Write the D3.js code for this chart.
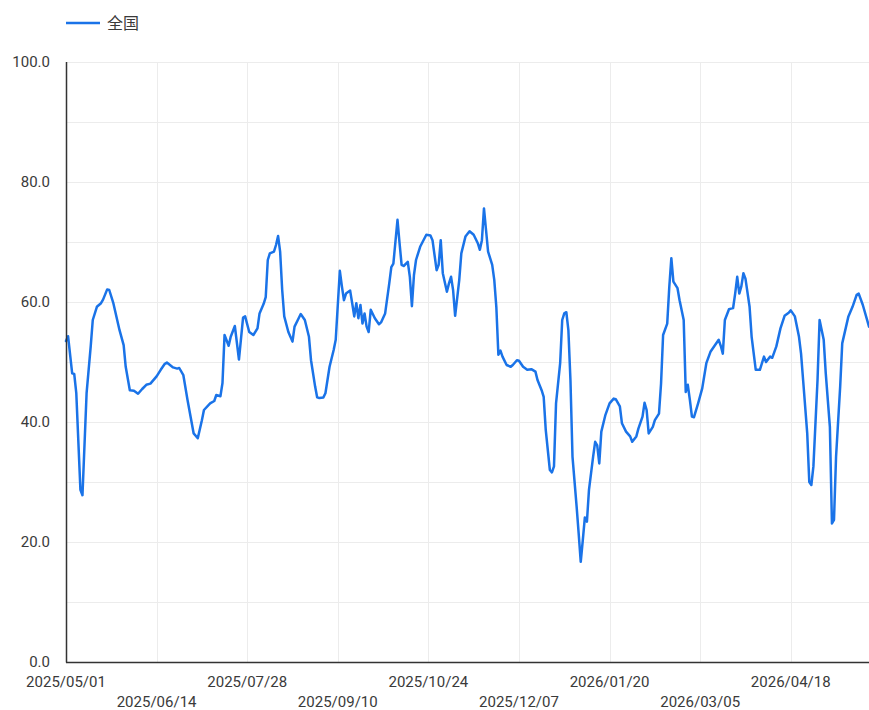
<!DOCTYPE html>
<html>
<head>
<meta charset="utf-8">
<script src="https://cdn.jsdelivr.net/npm/d3@7/dist/d3.min.js"></script>
<style>
  html, body { margin: 0; padding: 0; background: #fff; }
  svg { display: block; font-family: Roboto, "Noto Sans", sans-serif; }
  .grid line { stroke: #ececec; stroke-width: 1; }
  .axis-label { fill: #3a3a3a; font-size: 15px; }
</style>
</head>
<body>
<svg id="chart"></svg>
<script>
// series name
var seriesName = "全国";

// dates (daily samples)
var dates = [
  "2025-05-01","2025-05-02","2025-05-04","2025-05-05","2025-05-06","2025-05-08","2025-05-09","2025-05-11","2025-05-13","2025-05-14",
  "2025-05-16","2025-05-18","2025-05-19","2025-05-21","2025-05-22","2025-05-24","2025-05-27","2025-05-29","2025-05-30","2025-06-01",
  "2025-06-03","2025-06-05","2025-06-07","2025-06-09","2025-06-11","2025-06-14","2025-06-16","2025-06-18","2025-06-19","2025-06-22",
  "2025-06-24","2025-06-25","2025-06-27","2025-06-29","2025-07-02","2025-07-04","2025-07-06","2025-07-07","2025-07-10","2025-07-12",
  "2025-07-13","2025-07-15","2025-07-16","2025-07-17","2025-07-19","2025-07-20","2025-07-22","2025-07-24","2025-07-26","2025-07-27",
  "2025-07-29","2025-07-31","2025-08-02","2025-08-03","2025-08-05","2025-08-06","2025-08-07","2025-08-08","2025-08-10","2025-08-11",
  "2025-08-12","2025-08-13","2025-08-14","2025-08-15","2025-08-17","2025-08-18","2025-08-19","2025-08-20","2025-08-22","2025-08-23",
  "2025-08-25","2025-08-27","2025-08-28","2025-08-30","2025-08-31","2025-09-01","2025-09-03","2025-09-04","2025-09-06","2025-09-08",
  "2025-09-09","2025-09-11","2025-09-12","2025-09-13","2025-09-14","2025-09-16","2025-09-17","2025-09-18","2025-09-19","2025-09-20",
  "2025-09-21","2025-09-22","2025-09-23","2025-09-24","2025-09-25","2025-09-26","2025-09-28","2025-09-30","2025-10-01","2025-10-03",
  "2025-10-05","2025-10-06","2025-10-07","2025-10-09","2025-10-10","2025-10-11","2025-10-12","2025-10-14","2025-10-15","2025-10-16",
  "2025-10-17","2025-10-18","2025-10-20","2025-10-23","2025-10-25","2025-10-26","2025-10-28","2025-10-29","2025-10-30","2025-10-31",
  "2025-11-02","2025-11-03","2025-11-04","2025-11-05","2025-11-06","2025-11-08","2025-11-09","2025-11-11","2025-11-13","2025-11-15",
  "2025-11-17","2025-11-18","2025-11-19","2025-11-20","2025-11-21","2025-11-22","2025-11-24","2025-11-25","2025-11-26","2025-11-27",
  "2025-11-28","2025-11-29","2025-12-01","2025-12-03","2025-12-04","2025-12-06","2025-12-07","2025-12-09","2025-12-11","2025-12-13",
  "2025-12-15","2025-12-16","2025-12-18","2025-12-19","2025-12-20","2025-12-22","2025-12-23","2025-12-24","2025-12-25","2025-12-27",
  "2025-12-28","2025-12-29","2025-12-30","2025-12-31","2026-01-01","2026-01-02","2026-01-04","2026-01-05","2026-01-06","2026-01-07",
  "2026-01-08","2026-01-09","2026-01-10","2026-01-12","2026-01-13","2026-01-14","2026-01-15","2026-01-16","2026-01-18","2026-01-20",
  "2026-01-22","2026-01-23","2026-01-25","2026-01-26","2026-01-28","2026-01-30","2026-01-31","2026-02-02","2026-02-03","2026-02-05",
  "2026-02-06","2026-02-07","2026-02-08","2026-02-10","2026-02-11","2026-02-13","2026-02-14","2026-02-15","2026-02-17","2026-02-18",
  "2026-02-19","2026-02-20","2026-02-22","2026-02-23","2026-02-25","2026-02-26","2026-02-27","2026-02-28","2026-03-01","2026-03-02",
  "2026-03-04","2026-03-06","2026-03-08","2026-03-10","2026-03-12","2026-03-14","2026-03-15","2026-03-16","2026-03-17","2026-03-19",
  "2026-03-20","2026-03-21","2026-03-22","2026-03-23","2026-03-24","2026-03-25","2026-03-26","2026-03-27","2026-03-29","2026-03-30",
  "2026-04-01","2026-04-03","2026-04-05","2026-04-06","2026-04-08","2026-04-09","2026-04-11","2026-04-13","2026-04-15","2026-04-17",
  "2026-04-18","2026-04-20","2026-04-22","2026-04-23","2026-04-24","2026-04-26","2026-04-27","2026-04-28","2026-04-29","2026-05-01",
  "2026-05-02","2026-05-04","2026-05-05","2026-05-07","2026-05-08","2026-05-09","2026-05-10","2026-05-12","2026-05-13","2026-05-16",
  "2026-05-18","2026-05-20","2026-05-21","2026-05-23","2026-05-26"
];

// 全国 values
var values = [
  53.5,54.3,48.1,48.0,44.8,28.7,27.8,44.8,52.6,57.0,
  59.2,59.8,60.4,62.1,62.0,59.8,55.3,52.8,49.2,45.3,
  45.2,44.7,45.5,46.2,46.4,47.6,48.7,49.7,49.9,49.1,
  48.9,49.0,47.8,43.7,38.1,37.3,40.3,42.0,43.1,43.5,
  44.5,44.3,46.5,54.5,52.7,54.2,56.0,50.4,57.4,57.6,
  55.0,54.5,55.6,58.1,59.7,60.8,67.0,68.1,68.4,69.5,
  71.0,68.4,62.0,57.6,55.0,54.2,53.4,55.9,57.3,58.0,
  57.0,54.2,50.3,45.9,44.1,44.0,44.1,44.8,49.2,52.0,
  53.7,65.2,62.6,60.3,61.4,61.9,59.8,57.6,59.8,57.3,
  59.5,56.4,58.1,55.9,55.0,58.7,57.3,56.3,56.6,58.1,
  63.1,65.8,66.4,73.7,69.8,66.2,66.0,66.7,64.2,59.3,
  64.5,67.0,69.2,71.2,71.1,70.3,65.3,66.2,70.3,64.8,
  61.7,63.1,64.2,62.0,57.7,63.7,68.1,70.9,71.8,71.2,
  69.8,68.7,70.3,75.6,72.0,68.4,66.2,63.7,59.2,51.2,
  51.9,50.9,49.5,49.2,49.5,50.3,50.2,49.2,48.7,48.8,
  48.4,47.0,45.3,44.2,38.7,32.0,31.6,32.6,43.1,49.8,
  57.0,58.1,58.3,55.3,47.0,34.2,25.9,21.4,16.7,20.3,
  24.1,23.4,28.7,34.2,36.7,36.1,33.1,38.4,41.2,43.1,
  43.9,43.8,42.6,39.8,38.4,37.6,36.7,37.6,38.9,40.9,
  43.2,42.0,38.1,39.2,40.3,41.4,46.4,54.5,56.4,62.5,
  67.3,63.4,62.3,60.3,57.0,45.0,46.2,43.7,40.9,40.8,
  43.1,45.6,49.8,51.7,52.7,53.7,52.7,51.4,57.0,58.8,
  58.9,59.0,61.4,64.2,61.4,62.6,64.8,63.9,59.2,54.2,
  48.7,48.7,50.9,50.0,50.9,50.7,52.6,55.6,57.7,58.2,
  58.6,57.6,54.2,51.4,47.0,38.1,30.0,29.5,32.6,47.0,
  57.0,53.7,48.1,39.2,23.1,23.7,34.2,45.9,53.1,57.6,
  59.2,61.2,61.4,59.5,55.9
];

// axis ticks
var xTickDates = ["2025-05-01","2025-06-14","2025-07-28","2025-09-10","2025-10-24","2025-12-07","2026-01-20","2026-03-05","2026-04-18"];
var yGridValues = [0,10,20,30,40,50,60,70,80,90,100];
var yTickLabels = [0,20,40,60,80,100];
var xDomain = ["2025-05-01","2026-05-26"];

var W = 869, H = 710;
var margin = {top: 62, right: 0, bottom: 48, left: 66},
    width = W - margin.left - margin.right,
    height = H - margin.top - margin.bottom;

var parse = d3.timeParse("%Y-%m-%d"),
    fmt = d3.timeFormat("%Y/%m/%d");

var data = dates.map(function (d, i) {
  return {date: parse(d), value: values[i]};
});

var svg = d3.select("#chart").attr("width", W).attr("height", H);
var g = svg.append("g").attr("transform", "translate(" + margin.left + "," + margin.top + ")");

var x = d3.scaleTime().domain(xDomain.map(parse)).range([0, width]);
var y = d3.scaleLinear().domain([0, 100]).range([height, 0]);

// grid
var grid = g.append("g").attr("class", "grid");
grid.selectAll(".hg").data(yGridValues).enter().append("line")
    .attr("x1", 0).attr("x2", width)
    .attr("y1", function (d) { return y(d) + 0.5; })
    .attr("y2", function (d) { return y(d) + 0.5; });
grid.selectAll(".vg").data(xTickDates).enter().append("line")
    .attr("x1", function (d) { return Math.round(x(parse(d))) + 0.5; })
    .attr("x2", function (d) { return Math.round(x(parse(d))) + 0.5; })
    .attr("y1", 0).attr("y2", height);

// y labels
g.selectAll(".ylab").data(yTickLabels).enter().append("text")
    .attr("class", "axis-label")
    .attr("x", -16)
    .attr("y", function (d) { return y(d); })
    .attr("dy", "0.35em")
    .attr("text-anchor", "end")
    .text(function (d) { return d3.format(".1f")(d); });

// x labels, alternating rows
g.selectAll(".xlab").data(xTickDates).enter().append("text")
    .attr("class", "axis-label")
    .attr("x", function (d) { return x(parse(d)); })
    .attr("y", function (d, i) { return height + (i % 2 === 0 ? 20 : 40); })
    .attr("dy", "0.35em")
    .attr("text-anchor", "middle")
    .text(function (d) { return fmt(parse(d)); });

// line
var line = d3.line()
    .x(function (d) { return x(d.date); })
    .y(function (d) { return y(d.value); });

g.append("path")
    .datum(data)
    .attr("fill", "none")
    .attr("stroke", "#1a73e8")
    .attr("stroke-width", 2.5)
    .attr("stroke-linejoin", "round")
    .attr("stroke-linecap", "round")
    .attr("d", line);

// axis lines
g.append("line").attr("x1", 0.5).attr("x2", 0.5).attr("y1", 0).attr("y2", height + 0.5)
    .attr("stroke", "#333").attr("stroke-width", 1.5);
g.append("line").attr("x1", 0).attr("x2", width).attr("y1", height + 0.5).attr("y2", height + 0.5)
    .attr("stroke", "#333").attr("stroke-width", 1.5);

// legend
var legend = svg.append("g").attr("transform", "translate(66,23)");
legend.append("line").attr("x1", 0).attr("x2", 34).attr("y1", 0).attr("y2", 0)
    .attr("stroke", "#1a73e8").attr("stroke-width", 2.5);
legend.append("text")
    .attr("x", 41).attr("y", 0).attr("dy", "0.35em")
    .attr("fill", "#3a3a3a")
    .style("font-size", "16px")
    .style("font-family", "'Noto Sans CJK SC', sans-serif")
    .text(seriesName);
</script>
</body>
</html>
